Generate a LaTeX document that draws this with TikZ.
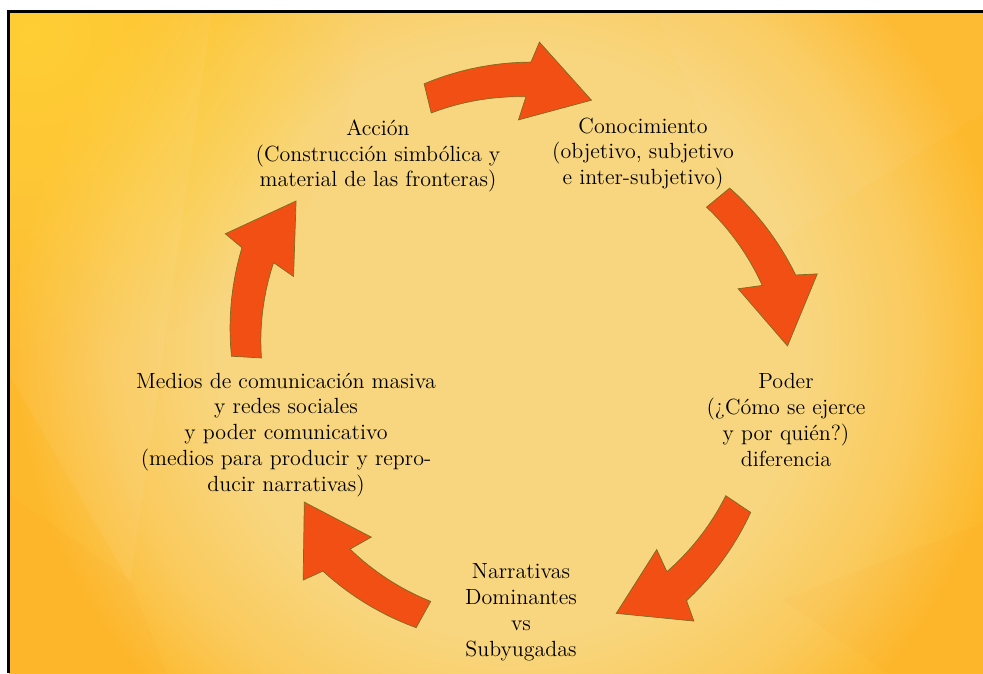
\documentclass[tikz,border=0pt]{standalone}
\usetikzlibrary{fadings}
\definecolor{glowin}{HTML}{F8D67F}
\definecolor{glowmid}{HTML}{FACA5C}
\definecolor{glowout}{HTML}{FDB92C}
\definecolor{bgyellow}{HTML}{FFD02A}
\definecolor{arrowred}{HTML}{F24F15}
\definecolor{arrowedge}{HTML}{7D6B1E}
\pgfdeclareradialshading{glow}{\pgfpoint{0bp}{0bp}}{color(0bp)=(glowin); color(10.5bp)=(glowin); color(14.5bp)=(glowmid); color(17.8bp)=(glowout); color(50bp)=(glowout)}
\tikzfading[name=tintfade, inner color=transparent!15, outer color=transparent!100]
\begin{document}
\begin{tikzpicture}[x=0.02cm, y=0.02cm, cyclelabel/.style={align=center, font=\fontsize{12.5}{14.75}\selectfont, inner sep=0pt}, cyclearrow/.style={fill=arrowred, draw=arrowedge, line width=0.4pt, line join=miter}]
  \useasboundingbox (0,0) rectangle (983,673);
  % background
  \begin{scope}
    \clip (8.5,0) rectangle (983,661.5);
    \shade[shading=glow] (512,330) circle (700);
    \fill[bgyellow, path fading=tintfade] (30,640) circle (330);
    \fill[white, opacity=0.05] (212,661.5) -- (130,90) -- (8.5,300) -- (8.5,661.5) -- cycle;
    \fill[white, opacity=0.04] (656,661.5) -- (760,420) -- (983,560) -- (983,661.5) -- cycle;
    \fill[orange, opacity=0.04] (130,93) -- (167,0) -- (8.5,0) -- (8.5,180) -- cycle;
    \fill[orange, opacity=0.04] (783,73) -- (887,0) -- (983,0) -- (983,150) -- cycle;
  \end{scope}
  \draw[line width=1.7pt] (8.5,0) -- (8.5,661.5) -- (983,661.5);
  % arrows round the cycle
  \foreach \s/\cx/\cy in {103.7/489/323, 39.4/518/311, -33.8/523/313, -119/549/285, 176.7/505/301}
    \draw[cyclearrow, shift={(\cx,\cy)}, rotate=\s]
      (0:274) -- plot[domain=0:-22, samples=12] (\x:{274-17*\x/22})
      -- (-23:312) -- (-36:270) -- (-21:232)
      -- plot[domain=-22:0, samples=12] (\x:{244-12*\x/22}) -- cycle;
  % labels
  \node[cyclelabel] (accion) at (378,517) {Acción\\(Construcción simbólica y\\material de las fronteras)};
  \node[cyclelabel] (conocimiento) at (643,519) {Conocimiento\\(objetivo, subjetivo\\e inter-subjetivo)};
  \node[cyclelabel] (poder) at (786,253) {Poder\\(¿Cómo se ejerce\\y por quién?)\\diferencia};
  \node[cyclelabel] (narrativas) at (521,61) {Narrativas\\Dominantes\\vs\\Subyugadas};
  \node[cyclelabel] (medios) at (286,238) {Medios de comunicación masiva\\y redes sociales\\y poder comunicativo\\(medios para producir y repro-\\ducir narrativas)};
\end{tikzpicture}
\end{document}
